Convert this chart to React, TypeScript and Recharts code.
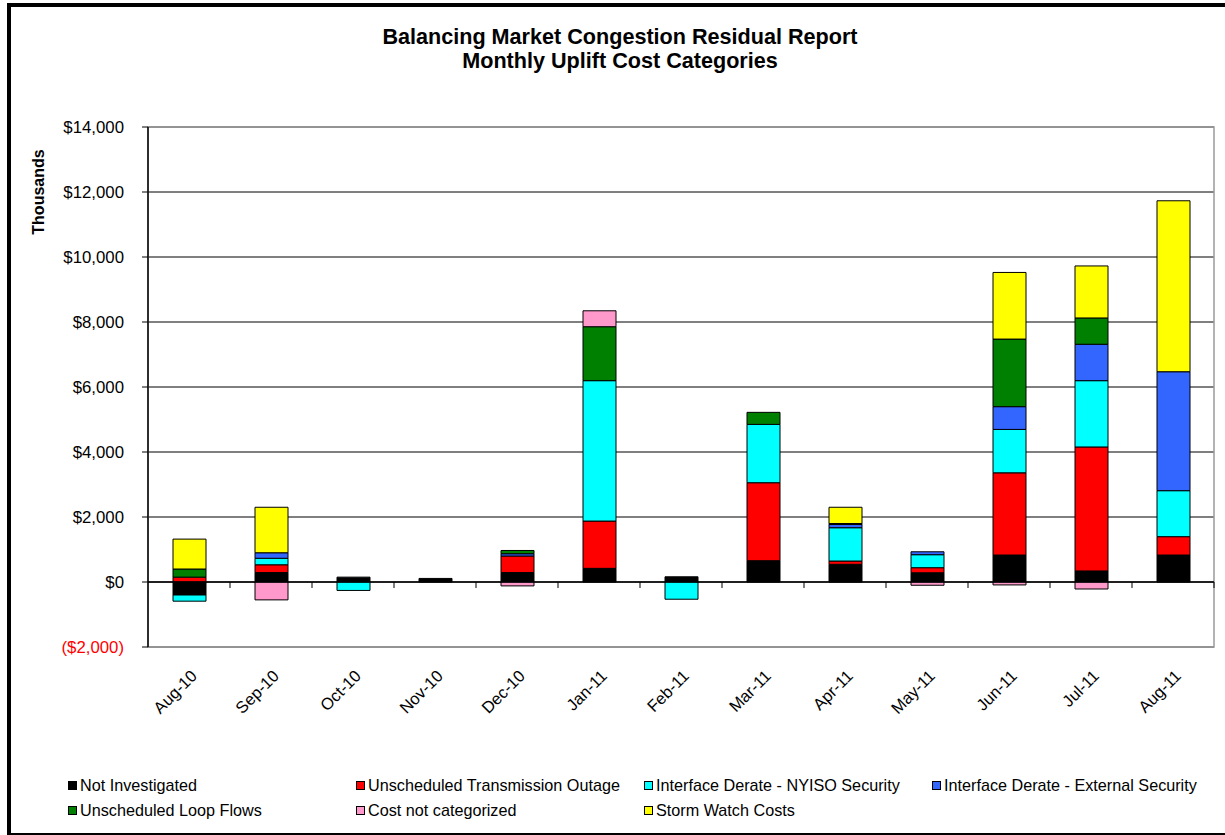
import React from 'react';
import { BarChart, Bar, XAxis, YAxis, CartesianGrid, ReferenceLine, ReferenceArea } from 'recharts';

const months = ['Aug-10', 'Sep-10', 'Oct-10', 'Nov-10', 'Dec-10', 'Jan-11', 'Feb-11', 'Mar-11', 'Apr-11', 'May-11', 'Jun-11', 'Jul-11', 'Aug-11'];

const notInvestigated = [-400, 290, 150, 110, 290, 420, 160, 655, 545, 285, 830, 340, 830];
const transmissionOutage = [150, 240, 0, 0, 510, 1455, 0, 2400, 100, 155, 2530, 3815, 565];
const nyisoSecurity = [-190, 200, -260, 0, 0, 4320, -530, 1795, 1025, 400, 1335, 2040, 1415];
const externalSecurity = [0, 170, 0, 0, 70, 0, 0, 0, 100, 90, 700, 1120, 3660];
const loopFlows = [250, 0, 0, 0, 100, 1660, 0, 370, 30, 0, 2080, 810, 0];
const notCategorized = [0, -550, 0, 0, -120, 490, 0, 0, 0, -100, -90, -215, 0];
const stormWatch = [920, 1400, 0, 0, 0, 0, 0, 0, 500, 0, 2050, 1600, 5260];

const yTicks = [-2000, 0, 2000, 4000, 6000, 8000, 10000, 12000, 14000];

const titleLines = ['Balancing Market Congestion Residual Report', 'Monthly Uplift Cost Categories'];
const yAxisTitle = 'Thousands';

const series = [
  { key: 'notInvestigated', name: 'Not Investigated', color: '#000000', values: notInvestigated },
  { key: 'transmissionOutage', name: 'Unscheduled Transmission Outage', color: '#FF0000', values: transmissionOutage },
  { key: 'nyisoSecurity', name: 'Interface Derate - NYISO Security', color: '#00FFFF', values: nyisoSecurity },
  { key: 'externalSecurity', name: 'Interface Derate - External Security', color: '#3366FF', values: externalSecurity },
  { key: 'loopFlows', name: 'Unscheduled Loop Flows', color: '#008000', values: loopFlows },
  { key: 'notCategorized', name: 'Cost not categorized', color: '#FF99CC', values: notCategorized },
  { key: 'stormWatch', name: 'Storm Watch Costs', color: '#FFFF00', values: stormWatch },
];

const data = months.map((m, i) => {
  const row: any = { month: m };
  series.forEach((s) => {
    row[s.key] = s.values[i];
  });
  return row;
});

const FONT = "Arial, 'Liberation Sans', sans-serif";

const fmt = (v: number) => {
  const s = Math.abs(v).toLocaleString('en-US');
  return v < 0 ? `($${s})` : `$${s}`;
};

const YTick = (props: any) => {
  const { x, y, payload } = props;
  const v = payload.value;
  return (
    <text x={x} y={y} dy={6} textAnchor="end" fontSize={16.8} fontFamily={FONT} fill={v < 0 ? '#FF0000' : '#000000'}>
      {fmt(v)}
    </text>
  );
};

const XTick = (props: any) => {
  const { x, y, payload } = props;
  return (
    <g transform={`translate(${x + 9},${y + 30})`}>
      <text x={0} y={0} textAnchor="end" transform="rotate(-45)" fontSize={16.5} fontFamily={FONT} fill="#000000">
        {payload.value}
      </text>
    </g>
  );
};

const ZeroAxis = (props: any) => {
  const { x1, y1, x2, y2 } = props;
  const n = months.length;
  const step = (x2 - x1) / n;
  const ticks = [];
  for (let i = 1; i <= n; i++) {
    const tx = x1 + i * step;
    ticks.push(<line key={i} x1={tx} x2={tx} y1={y1} y2={y1 + 6} stroke="#000000" strokeWidth={1} />);
  }
  return (
    <g>
      <line x1={x1} y1={y1} x2={x2} y2={y2} stroke="#000000" strokeWidth={1.5} />
      {ticks}
    </g>
  );
};

const ThousandsLabel = (props: any) => {
  const vb = props.viewBox || { x: 68, y: 127 };
  const cx = vb.x - 30;
  const cy = vb.y + 65;
  return (
    <text
      x={cx}
      y={cy}
      textAnchor="middle"
      dominantBaseline="central"
      transform={`rotate(-90, ${cx}, ${cy})`}
      fontSize={16}
      fontWeight="bold"
      fontFamily={FONT}
      fill="#000000"
    >
      {yAxisTitle}
    </text>
  );
};

export default function App() {
  return (
    <div style={{ position: 'absolute', left: 0, top: 0, width: 1225, height: 835, background: '#ffffff', overflow: 'hidden' }}>
      <div
        style={{
          position: 'absolute',
          left: 7,
          top: 3,
          width: 1218,
          height: 832,
          boxSizing: 'border-box',
          borderLeft: '4px solid #000',
          borderTop: '4px solid #000',
          borderBottom: '2px solid #000',
        }}
      />
      <div
        style={{
          position: 'absolute',
          left: 20,
          top: 25,
          width: 1200,
          textAlign: 'center',
          fontFamily: FONT,
          fontWeight: 'bold',
          fontSize: 21.6,
          lineHeight: '24px',
          color: '#000',
        }}
      >
        {titleLines.map((t) => (
          <div key={t}>{t}</div>
        ))}
      </div>
      <div style={{ position: 'absolute', left: 0, top: 0 }}>
        <BarChart
          width={1225}
          height={835}
          data={data}
          stackOffset="sign"
          barSize={33}
          margin={{ top: 127, right: 11, bottom: 148, left: 68 }}
        >
          <CartesianGrid vertical={false} stroke="#000000" strokeWidth={1} />
          <ReferenceArea y1={-2000} y2={14000} fill="none" stroke="#9a9a9a" strokeWidth={1.5} ifOverflow="extendDomain" />
          <XAxis
            dataKey="month"
            axisLine={false}
            tickLine={false}
            tickSize={0}
            tickMargin={0}
            height={40}
            interval={0}
            tick={<XTick />}
          />
          <YAxis
            domain={[-2000, 14000]}
            ticks={yTicks}
            width={80}
            interval={0}
            axisLine={{ stroke: '#000000', strokeWidth: 1.5 }}
            tickLine={{ stroke: '#000000' }}
            tickSize={6}
            tickMargin={18}
            tick={<YTick />}
            label={<ThousandsLabel />}
          />
          {series.map((s) => (
            <Bar
              key={s.key}
              dataKey={s.key}
              name={s.name}
              stackId="a"
              fill={s.color}
              stroke="#000000"
              strokeWidth={1}
              isAnimationActive={false}
            />
          ))}
          <ReferenceLine y={0} shape={<ZeroAxis />} />
        </BarChart>
      </div>
      <div
        style={{
          position: 'absolute',
          left: 68,
          top: 773,
          width: 1157,
          display: 'flex',
          flexWrap: 'wrap',
          fontFamily: FONT,
          fontSize: 16.2,
          color: '#000',
          whiteSpace: 'nowrap',
        }}
      >
        {series.map((s) => (
          <div key={s.key} style={{ width: 288, height: 25, display: 'flex', alignItems: 'center' }}>
            <span
              style={{
                display: 'inline-block',
                flex: '0 0 auto',
                width: 7,
                height: 7,
                background: s.color,
                border: '1px solid #000',
                marginRight: 3,
              }}
            />
            <span>{s.name}</span>
          </div>
        ))}
      </div>
    </div>
  );
}
